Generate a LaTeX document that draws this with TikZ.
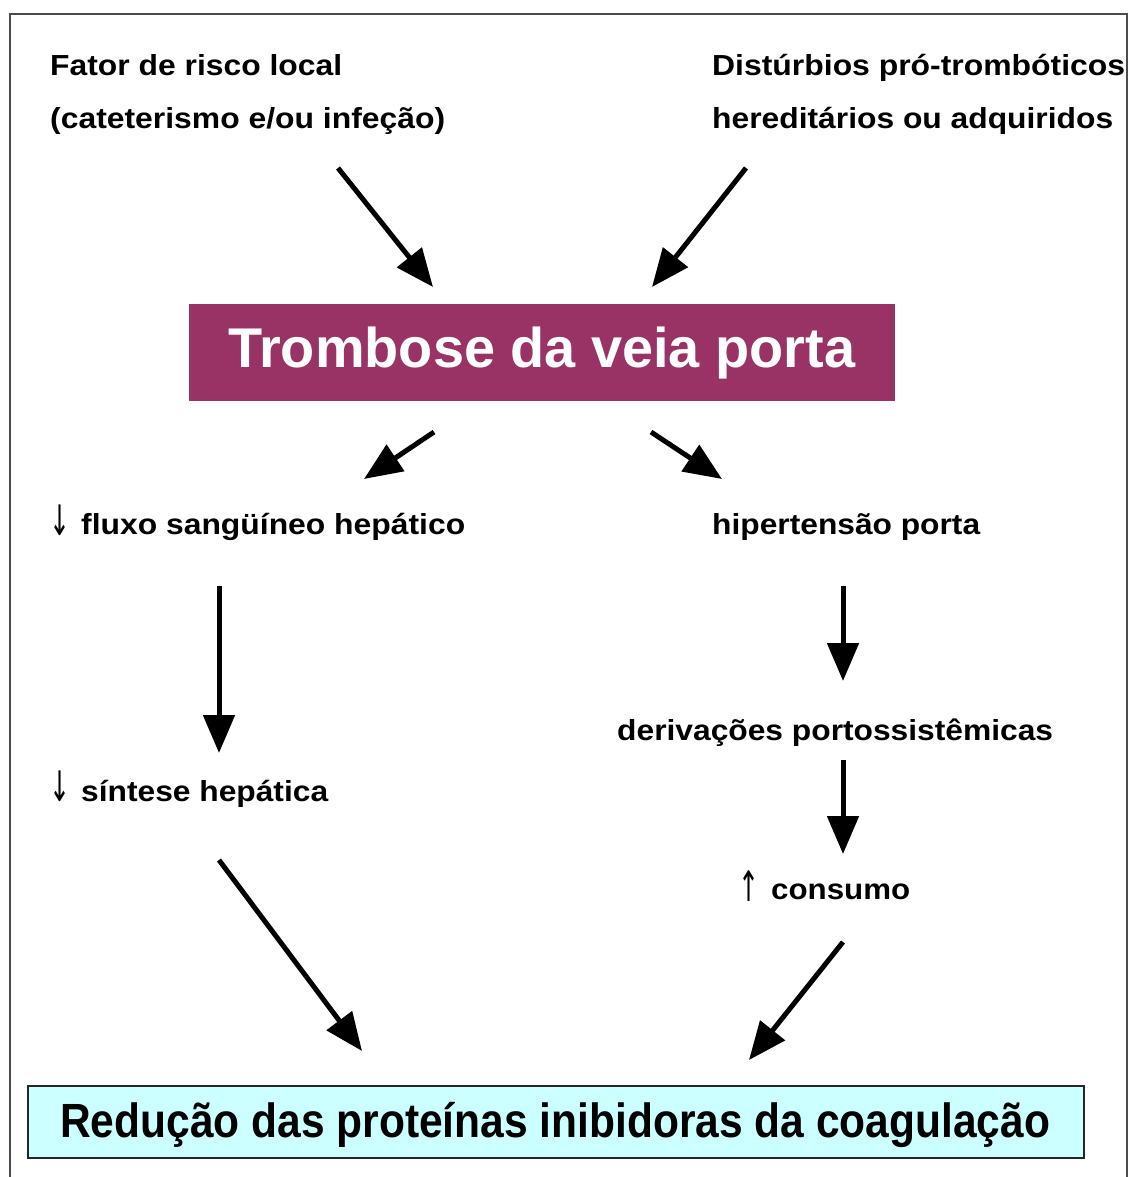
\documentclass[tikz,border=0pt]{standalone}
\usepackage{fontspec}
\setmainfont{Liberation Sans}
\newfontfamily\symf{DejaVu Sans}
\usetikzlibrary{arrows.meta}
\definecolor{plum}{HTML}{993366}
\definecolor{paleCyan}{HTML}{CCFFFF}
\newlength\fitlen
\newcommand\fitx[2]{\settowidth\fitlen{#2}\pgfmathsetmacro\fitr{#1/\fitlen}\scalebox{\fitr}[1]{#2}}
\begin{document}
\begin{tikzpicture}[x=1pt,y=-1pt,
  lbl/.style={inner sep=0pt,anchor=base west,font=\fontsize{29}{34}\selectfont\bfseries},
  flow/.style={line width=5pt,-{Triangle[length=38pt,width=31pt]}},
  symarr/.style={inner sep=0pt,anchor=base west,font=\fontsize{42}{46}\selectfont\symf}]
\useasboundingbox (0,0) rectangle (1128,1177);
\draw[line width=2pt,gray!60!black] (10,1177) -- (10,14) -- (1127,14) -- (1127,1177);
% top labels
\node[lbl] (t1) at (50,76) {\fitx{292}{Fator de risco local}};
\node[lbl] (t2) at (50,129) {\fitx{395}{(cateterismo e/ou infeção)}};
\node[lbl] (t3) at (712,76) {\fitx{413}{Distúrbios pró-trombóticos}};
\node[lbl] (t4) at (712,129) {\fitx{401}{hereditários ou adquiridos}};
% main box
\node[fill=plum,minimum width=706pt,minimum height=97pt,inner sep=0pt,anchor=north west] (tvp) at (189,304) {};
\node[inner sep=0pt,anchor=base west,text=white,font=\fontsize{56}{60}\selectfont\bfseries] (tvpt) at (228,367) {\fitx{627}{Trombose da veia porta}};
% middle labels
\node[symarr] (fla) at (49,535) {\fitx{21}{↓}};
\node[lbl] (flt) at (81,534) {\fitx{384}{fluxo sangüíneo hepático}};
\node[lbl] (hp) at (712,534) {\fitx{268}{hipertensão porta}};
\node[lbl] (dp) at (617,740) {\fitx{436}{derivações portossistêmicas}};
\node[symarr] (sha) at (49,801) {\fitx{21}{↓}};
\node[lbl] (sh) at (81,801) {\fitx{247}{síntese hepática}};
\node[symarr] (coa) at (738,901) {\fitx{21}{↑}};
\node[lbl] (co) at (771,899) {\fitx{139}{consumo}};
% bottom box
\node[fill=paleCyan,draw=black!85,line width=1.5pt,minimum width=1056pt,minimum height=72pt,inner sep=0pt,anchor=north west] (red) at (27,1085) {};
\node[inner sep=0pt,anchor=base west,font=\fontsize{48}{52}\selectfont\bfseries] (redt) at (60,1137) {\fitx{990}{Redução das proteínas inibidoras da coagulação}};
% arrow end points
\coordinate (a1s) at (338,168); \coordinate (a1e) at (433,287);
\coordinate (a2s) at (746,168); \coordinate (a2e) at (652,287);
\coordinate (a3s) at (434,432); \coordinate (a3e) at (364,479);
\coordinate (a4s) at (651,432); \coordinate (a4e) at (722,479);
\coordinate (a5s) at (219,586); \coordinate (a5e) at (219,753);
\coordinate (a6s) at (843,586); \coordinate (a6e) at (843,681);
\coordinate (a7s) at (843,760); \coordinate (a7e) at (843,854);
\coordinate (a8s) at (219,860); \coordinate (a8e) at (362,1051);
\coordinate (a9s) at (843,942); \coordinate (a9e) at (749,1060);
\foreach \i in {1,...,9} {\draw[flow] (a\i s) -- (a\i e);}
\end{tikzpicture}
\end{document}
